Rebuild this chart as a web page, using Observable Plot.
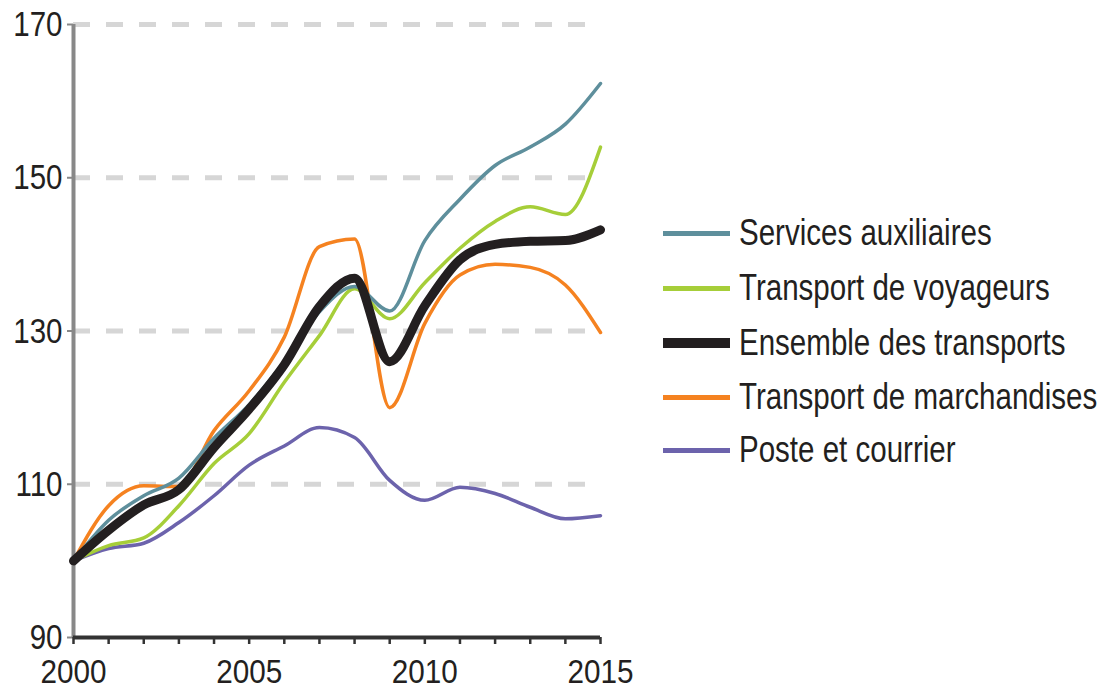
<!DOCTYPE html>
<html><head><meta charset="utf-8">
<script src="https://cdn.jsdelivr.net/npm/d3@7"></script>
<script src="https://cdn.jsdelivr.net/npm/@observablehq/plot@0.6"></script>
<style>
body{margin:0;background:#fff;}
#wrap{position:relative;width:1105px;height:690px;overflow:hidden;}
#legend{position:absolute;left:663px;top:0;font-family:"Liberation Sans",Arial,sans-serif;font-size:36px;color:#231f20;}
.item{position:absolute;left:0;height:40px;display:flex;align-items:center;white-space:nowrap;}
.sw{width:67px;margin-right:9px;flex:none;}
.lab{display:inline-block;transform:scaleX(0.82);transform-origin:0 50%;}
</style></head><body><div id="wrap"><div id="chart"></div><div id="legend"></div></div>
<script>
const years = [2000,2001,2002,2003,2004,2005,2006,2007,2008,2009,2010,2011,2012,2013,2014,2015];
const services     = [100,105.3,108.5,110.8,116.0,120.4,126.0,132.5,135.8,132.6,141.8,147.2,151.6,154.0,157.0,162.3];
const voyageurs    = [100,102.0,103.0,107.2,112.7,116.6,123.3,129.4,135.5,131.6,136.3,140.8,144.3,146.2,145.2,154.0];
const ensemble     = [100,104.0,107.3,109.3,114.8,119.8,125.6,133.2,136.9,126.0,133.3,139.3,141.3,141.7,141.8,143.2];
const marchandises = [100,107.2,109.8,109.7,117.0,122.2,129.2,141.0,142.0,120.0,131.0,137.3,138.7,138.3,136.0,129.8];
const poste        = [100,101.6,102.3,105.0,108.5,112.5,115.0,117.4,116.1,110.5,107.9,109.6,108.8,107.0,105.5,105.9];
const names  = ["Services auxiliaires","Transport de voyageurs","Ensemble des transports","Transport de marchandises","Poste et courrier"];
const colors = ["#5e8f9c","#a6ce39","#231f20","#f58220","#6c63ac"];
const yTicks = [90,110,130,150,170];
const gridTicks = [110,130,150,170];
const labelYears = [2000,2005,2010,2015];

const valuesByName = {
  "Services auxiliaires": services,
  "Transport de voyageurs": voyageurs,
  "Ensemble des transports": ensemble,
  "Transport de marchandises": marchandises,
  "Poste et courrier": poste
};
const widthOf = n => n === "Ensemble des transports" ? 9 : 3.5;
const drawOrder = ["Poste et courrier","Transport de marchandises","Transport de voyageurs","Services auxiliaires","Ensemble des transports"];
const rows = n => years.map((y,i) => ({year:y, value:valuesByName[n][i], name:n}));

const chart = Plot.plot({
  width: 1105, height: 690,
  marginLeft: 73, marginRight: 505, marginTop: 24, marginBottom: 53,
  style: {fontFamily: '"Liberation Sans",Arial,sans-serif', fontSize: "36px", color: "#231f20", background: "#fff"},
  x: {domain: [2000, 2015]},
  y: {domain: [90, 170]},
  color: {domain: names, range: colors},
  marks: [
    Plot.ruleY(gridTicks, {stroke: "#d6d6d6", strokeWidth: 5, strokeDasharray: "17 16"}),
    Plot.axisY({ticks: yTicks, tickSize: 6, tickPadding: 5, stroke: "#888", strokeWidth: 2, fill: "#231f20", fontSize: 36, label: null}),
    Plot.axisX({ticks: years, tickSize: 7, tickPadding: 15, stroke: "#333", strokeWidth: 2.5, fill: "#231f20", fontSize: 33, label: null,
      tickFormat: d => labelYears.includes(d) ? String(d) : ""}),
    Plot.ruleX([2000], {stroke: "#888", strokeWidth: 4}),
    Plot.ruleY([90], {stroke: "#333", strokeWidth: 4}),
    ...drawOrder.map(n => Plot.lineY(rows(n), {x: "year", y: "value", stroke: "name", strokeWidth: widthOf(n), curve: "monotone-x"}))
  ]
});
// condense tick labels horizontally (narrow typeface look); position stays in the translate
chart.querySelectorAll('g[aria-label="y-axis tick label"] text').forEach(el => {
  const t = el.getAttribute("transform");
  if (t) el.setAttribute("transform", t + " scale(0.82,1)");
});
chart.querySelectorAll('g[aria-label="x-axis tick label"] text').forEach(el => {
  const t = el.getAttribute("transform");
  if (t) el.setAttribute("transform", t + " scale(0.9,1)");
});
document.getElementById("chart").appendChild(chart);

const centers = [233, 288, 343, 397, 450];
const legend = document.getElementById("legend");
names.forEach((n, i) => {
  const item = document.createElement("div");
  item.className = "item";
  item.style.top = (centers[i] - 20) + "px";
  const sw = document.createElement("div");
  sw.className = "sw";
  sw.style.height = widthOf(n) === 9 ? "10px" : "5px";
  sw.style.background = colors[i];
  const t = document.createElement("span");
  t.className = "lab";
  t.textContent = n;
  item.appendChild(sw); item.appendChild(t);
  legend.appendChild(item);
});
</script>
</body></html>
